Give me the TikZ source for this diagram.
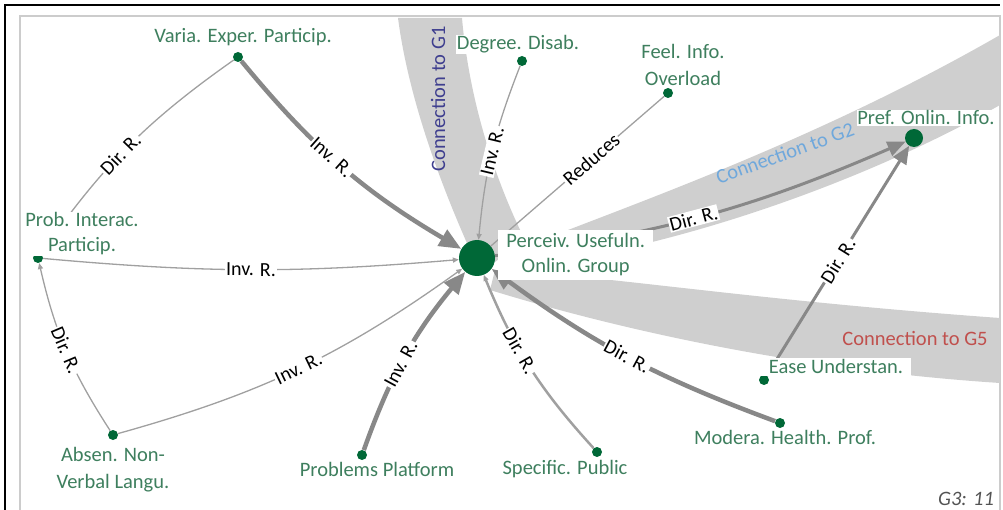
\documentclass[tikz,border=0pt]{standalone}
\usepackage{fontspec}
\setmainfont{Carlito}
\usetikzlibrary{positioning,arrows.meta}

\definecolor{lblgreen}{HTML}{3E7F5E}
\definecolor{dotgreen}{HTML}{006837}
\definecolor{bandgray}{HTML}{CFCFCF}
\definecolor{edgegray}{HTML}{888888}
\definecolor{gonecol}{HTML}{3F3F8F}
\definecolor{gtwocol}{HTML}{6FA8DC}
\definecolor{gfivecol}{HTML}{C0504D}

\begin{document}
\begin{tikzpicture}[x=1pt, y=-1pt,
		dot/.style={circle, fill=dotgreen, inner sep=0pt, minimum size=10pt},
		lbl/.style={fill=white, text=lblgreen, align=center, inner sep=0.5pt, font=\fontsize{20.5}{27}\selectfont},
		elbl/.style={fill=white, text=black, inner sep=1pt, sloped, font=\fontsize{20}{22}\selectfont},
		bandtext/.style={font=\fontsize{20.5}{22}\selectfont},
		thinedge/.style={draw=edgegray!80, line width=1.3pt, -{Triangle[length=6pt,width=5pt]}},
		midedge/.style={draw=edgegray, line width=3pt, -{Triangle[length=18pt,width=15pt]}},
		thickedge/.style={draw=edgegray, line width=4.5pt, -{Triangle[length=22pt,width=18pt]}},
		band/.style={fill=bandgray, draw=none}
		]
		\useasboundingbox (0,0) rectangle (1003,510);
		\draw[black, line width=2.5pt] (5,520) -- (5,5) -- (1000,5);
		\draw[gray!40, line width=1.5pt] (20,520) -- (20,16) -- (1000,16) -- (1000,520);
		
		% groups
		\fill[band] (398,18) -- (462,18) .. controls (470,110) and (500,190) .. (525,240) -- (495,262) -- (470,250) .. controls (450,205) and (410,110) .. (398,18) -- cycle;
		\fill[band] (505,255) .. controls (600,215) and (800,150) .. (1000,35) -- (1000,105) .. controls (850,190) and (650,255) .. (505,268) -- cycle;
		\fill[band] (495,270) .. controls (600,275) and (750,300) .. (1000,318) -- (1000,383) .. controls (800,370) and (620,330) .. (490,290) -- cycle;
		\node[bandtext, text=gonecol, rotate=90] (gone) at (438,99) {Connection to G1};
		\node[bandtext, text=gtwocol, rotate=20] (gtwo) at (785,153) {Connection to G2};
		\node[bandtext, text=gfivecol] (gfive) at (915,338) {Connection to G5};
		
		\node[dot, minimum size=36pt] (center) at (477,258) {};
		\node[dot] (varia) at (238,57) {};
		\node[dot] (degree) at (522,61) {};
		\node[dot] (feel) at (668,93) {};
		\node[dot, minimum size=18pt] (pref) at (914,138) {};
		\node[dot] (prob) at (38,258) {};
		\node[dot] (absen) at (113,435) {};
		\node[dot] (problems) at (362,455) {};
		\node[dot] (specific) at (597,452) {};
		\node[dot] (modera) at (780,423) {};
		\node[dot] (ease) at (764,380) {};
		
		\draw[thickedge] (varia) to[bend right=10] node[elbl, pos=.45] {Inv. R.} (center);
		\draw[thinedge, -] (varia) to[bend right=10] node[elbl, pos=.54] {Dir. R.} (prob);
		\draw[thinedge] (prob) to[bend right=5] node[elbl, pos=.5] {Inv. R.} (center);
		\draw[thinedge] (absen) to[bend left=10] node[elbl, pos=.5] {Dir. R.} (prob);
		\draw[thinedge] (absen) to[bend right=10] node[elbl, pos=.5] {Inv. R.} (center);
		\draw[thickedge] (problems) to[bend left=10] node[elbl, pos=.45] {Inv. R.} (center);
		\draw[thinedge] (degree) to[bend right=8] node[elbl, pos=.5] {Inv. R.} (center);
		\draw[thinedge, -] (feel) -- node[elbl, pos=.42] {Reduces} (center);
		\draw[midedge] (center) to[bend right=8] node[elbl, pos=.47] {Dir. R.} (pref);
		\draw[midedge] (ease) -- node[elbl, pos=.5] {Dir. R.} (pref);
		\draw[thinedge, line width=2.5pt] (specific) to[bend left=10] node[elbl, pos=.6] {Dir. R.} (center);
		\draw[thickedge] (modera) to[bend left=8] node[elbl, pos=.5] {Dir. R.} (center);
		
		\node[lbl, right=3pt of center, yshift=3pt, inner xsep=8pt, inner ysep=4pt, font=\fontsize{20.5}{25}\selectfont] (centerL) {Perceiv. Usefuln.\\Onlin. Group};
		\node[lbl, above=5pt of varia, xshift=5pt] (variaL) {Varia. Exper. Particip.};
		\node[lbl, above=2pt of degree, xshift=-4pt] (degreeL) {Degree. Disab.};
		\node[lbl, above=1pt of feel, xshift=15pt] (feelL) {Feel. Info.\\Overload};
		\node[lbl, above=3pt of pref, xshift=12pt] (prefL) {Pref. Onlin. Info.};
		\node[lbl, font=\fontsize{20.5}{25}\selectfont] (probL) at (82,234) {Prob. Interac.\\Particip.};
		\node[lbl, below=6pt of absen] (absenL) {Absen. Non-\\Verbal Langu.};
		\node[lbl, below=1pt of problems, xshift=15pt] (problemsL) {Problems Platform};
		\node[lbl, below=2pt of specific, xshift=-32pt] (specificL) {Specific. Public};
		\node[lbl, below=1pt of modera, xshift=5pt] (moderaL) {Modera. Health. Prof.};
		\node[lbl, above right=0pt and -7pt of ease, inner xsep=8pt, inner ysep=2pt] (easeL) {Ease Understan.};
		
		\node[bandtext, text=gray!65!black, font=\fontsize{20.5}{22}\selectfont\itshape] (tag) at (966,499) {G3: 11};
	\end{tikzpicture}
\end{document}
